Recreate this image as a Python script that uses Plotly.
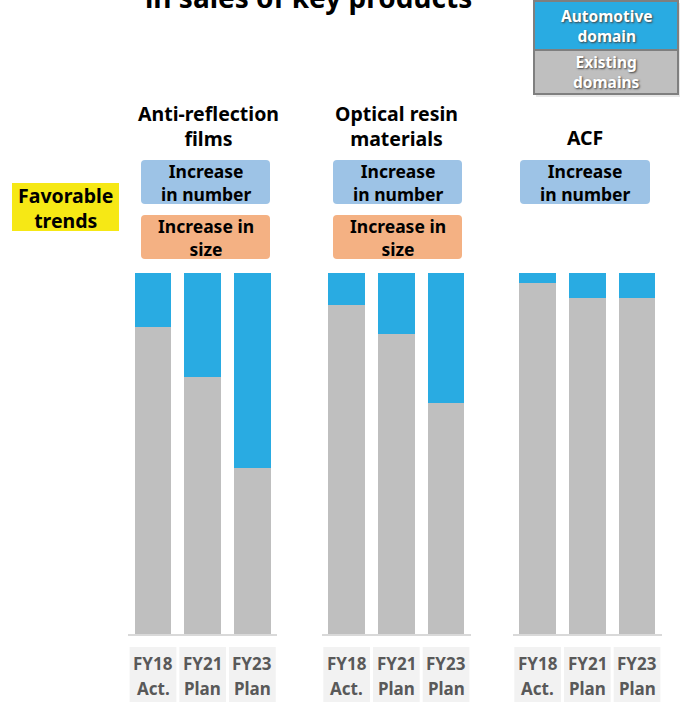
import plotly.graph_objects as go

W, H = 686, 702

# ---------------- data ----------------
products = ["Anti-reflection films", "Optical resin materials", "ACF"]
periods = ["FY18 Act.", "FY21 Plan", "FY23 Plan"]
period_years = ["FY18", "FY21", "FY23"]
period_kinds = ["Act.", "Plan", "Plan"]

ar_automotive = [14.9, 28.8, 54.0]
ar_existing = [85.1, 71.2, 46.0]
optical_automotive = [8.9, 16.9, 36.0]
optical_existing = [91.1, 83.1, 64.0]
acf_automotive = [2.9, 7.0, 7.0]
acf_existing = [97.1, 93.0, 93.0]

series_names = ["Existing domains", "Automotive domain"]

# ---------------- styles ----------------
FONT = "Noto Sans"
BLUE = "#29ABE2"
GRAY = "#BFBFBF"


def px(x):
    return x / W


def py(y):
    return 1 - y / H


def rrect_path(x0, y0, x1, y1, r=4):
    rx, ry = r / W, r / H
    X0, X1 = px(x0), px(x1)
    Y0, Y1 = py(y0), py(y1)  # Y0 top (bigger), Y1 bottom
    return (f"M {X0+rx},{Y0} L {X1-rx},{Y0} Q {X1},{Y0} {X1},{Y0-ry} "
            f"L {X1},{Y1+ry} Q {X1},{Y1} {X1-rx},{Y1} L {X0+rx},{Y1} "
            f"Q {X0},{Y1} {X0},{Y1+ry} L {X0},{Y0-ry} Q {X0},{Y0} {X0+rx},{Y0} Z")


fig = go.Figure()

groups = [
    (ar_existing, ar_automotive),
    (optical_existing, optical_automotive),
    (acf_existing, acf_automotive),
]
axis_ids = ["", "2", "3"]
x_domains = [
    [128.15 / W, 277.25 / W],
    [321.8 / W, 470.9 / W],
    [512.8 / W, 661.9 / W],
]
y_domain = [py(634), py(272.7)]

for gi, (existing, automotive) in enumerate(groups):
    aid = axis_ids[gi]
    fig.add_trace(go.Bar(x=periods, y=existing, name=series_names[0],
                         marker=dict(color=GRAY, line=dict(width=0)),
                         xaxis="x" + aid, yaxis="y" + aid, showlegend=False,
                         hoverinfo="skip"))
    fig.add_trace(go.Bar(x=periods, y=automotive, name=series_names[1],
                         marker=dict(color=BLUE, line=dict(width=0)),
                         xaxis="x" + aid, yaxis="y" + aid, showlegend=False,
                         hoverinfo="skip"))

layout = dict(
    width=W, height=H,
    margin=dict(l=0, r=0, t=0, b=0),
    paper_bgcolor="white", plot_bgcolor="white",
    barmode="stack", bargap=0.26,
    showlegend=False,
    font=dict(family=FONT),
)
for gi in range(3):
    aid = axis_ids[gi]
    layout["xaxis" + aid] = dict(
        domain=x_domains[gi], anchor="y" + aid, type="category",
        showticklabels=False, ticks="", showgrid=False, zeroline=False,
        showline=True, linecolor="#D9D9D9", linewidth=2, fixedrange=True)
    layout["yaxis" + aid] = dict(
        domain=y_domain, anchor="x" + aid, range=[0, 100],
        visible=False, showgrid=False, zeroline=False, fixedrange=True)
fig.update_layout(**layout)

shapes = []
annotations = []


def text(x, y, s, size, color="black", shadow=None, xref="paper", yref="paper"):
    f = dict(family=FONT, size=size, color=color, weight="bold")
    if shadow:
        f["shadow"] = shadow
    annotations.append(dict(x=x, y=y, xref=xref, yref=yref, text=s,
                            showarrow=False, xanchor="center", yanchor="middle",
                            borderpad=0, font=f))


# category label boxes under each bar
for gi in range(3):
    aid = axis_ids[gi]
    for i in range(len(periods)):
        shapes.append(dict(type="rect", xref="x" + aid, yref="paper",
                           x0=i - 0.47, x1=i + 0.47, y0=py(703), y1=py(647),
                           fillcolor="#F2F2F2", line=dict(width=0), layer="below"))
        text(periods[i], py(663), period_years[i], 17, "#595959",
             xref="x" + aid)
        text(periods[i], py(688), period_kinds[i], 17, "#595959",
             xref="x" + aid)

# title (cut off at top, as in the reference)
text(px(308), py(-3), "in sales of key products", 28)

# product titles
text(px(208), py(126), "Anti-reflection<br>films", 19.5)
text(px(396), py(126), "Optical resin<br>materials", 19.5)
text(px(585), py(138), "ACF", 19.5)

# favorable trends
shapes.append(dict(type="rect", xref="paper", yref="paper",
                   x0=px(12), x1=px(119), y0=py(231), y1=py(183),
                   fillcolor="#F6E815", line=dict(width=0)))
text(px(65.5), py(208), "Favorable<br>trends", 19.5)

# trend boxes
box_specs = [
    (141, 270, True),
    (333, 462, True),
    (520, 650, False),
]
for x0, x1, has_size in box_specs:
    cx = (x0 + x1) / 2
    shapes.append(dict(type="path", xref="paper", yref="paper",
                       path=rrect_path(x0, 160, x1, 204),
                       fillcolor="#9DC3E6", line=dict(width=0)))
    text(px(cx), py(183), "Increase<br>in number", 17.5)
    if has_size:
        shapes.append(dict(type="path", xref="paper", yref="paper",
                           path=rrect_path(x0, 215, x1, 259),
                           fillcolor="#F4B183", line=dict(width=0)))
        text(px(cx), py(237), "Increase in<br>size", 17.5)

# legend box
shapes.append(dict(type="rect", xref="paper", yref="paper",
                   x0=px(536), x1=px(680), y0=py(97), y1=py(3),
                   fillcolor="#D0D0D0", line=dict(width=0), opacity=0.5))
shapes.append(dict(type="rect", xref="paper", yref="paper",
                   x0=px(534), x1=px(678), y0=py(49.5), y1=py(1),
                   fillcolor=BLUE, line=dict(width=0)))
shapes.append(dict(type="rect", xref="paper", yref="paper",
                   x0=px(534), x1=px(678), y0=py(94), y1=py(50.5),
                   fillcolor=GRAY, line=dict(width=0)))
shapes.append(dict(type="line", xref="paper", yref="paper",
                   x0=px(534), x1=px(678), y0=py(50), y1=py(50),
                   line=dict(color="#7F7F7F", width=2)))
shapes.append(dict(type="rect", xref="paper", yref="paper",
                   x0=px(534), x1=px(678), y0=py(94), y1=py(1),
                   fillcolor="rgba(0,0,0,0)", line=dict(color="#7F7F7F", width=2)))
sh = "1px 1px 2px #404040"
text(px(606), py(26), "Automotive<br>domain", 15.5, "white", sh)
text(px(606), py(72), "Existing<br>domains", 15.5, "white", sh)

fig.update_layout(shapes=shapes, annotations=annotations)
fig.write_html("out.html")
